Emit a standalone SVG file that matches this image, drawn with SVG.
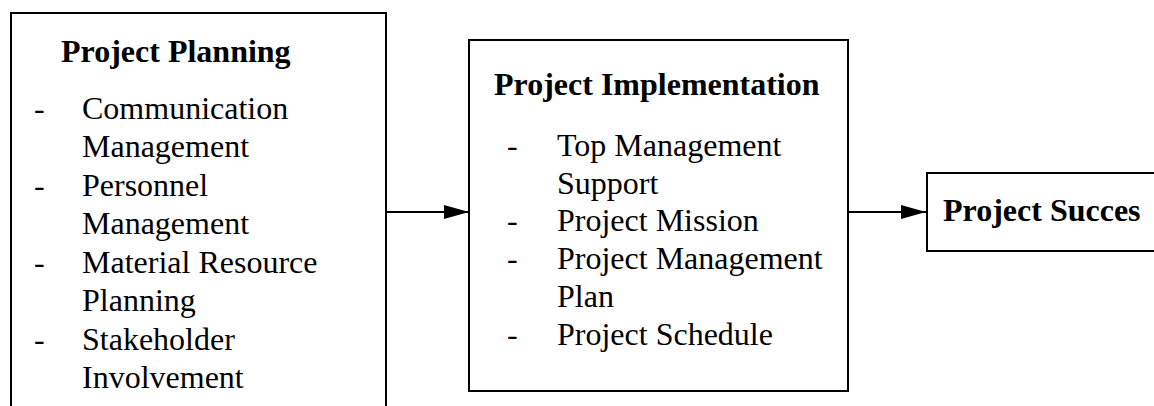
<svg xmlns="http://www.w3.org/2000/svg" width="1154" height="406" viewBox="0 0 1154 406">
  <style>
    .box { fill: #ffffff; stroke: #000000; stroke-width: 2; }
    .title { font-family: "Liberation Serif", "Times New Roman", serif; font-size: 32px; font-weight: bold; fill: #000000; }
    .item { font-family: "Liberation Serif", "Times New Roman", serif; font-size: 32px; fill: #000000; }
    .link { stroke: #000000; stroke-width: 2; fill: none; }
  </style>
  <defs>
    <marker id="arrowhead" markerUnits="userSpaceOnUse" markerWidth="26" markerHeight="16" refX="25" refY="8" orient="auto">
      <path d="M0,1 L25,8 L0,15 Z" fill="#000000"/>
    </marker>
  </defs>
  <rect width="1154" height="406" fill="#ffffff"/>

  <g id="planning">
    <rect class="box" x="11" y="13" width="375" height="420"/>
    <text class="title" x="61" y="62">Project Planning</text>
    <g class="item">
      <text x="34" y="118.5">-</text><text x="82" y="118.5">Communication</text>
      <text x="82" y="157">Management</text>
      <text x="34" y="195.5">-</text><text x="82" y="195.5">Personnel</text>
      <text x="82" y="234">Management</text>
      <text x="34" y="272.5">-</text><text x="82" y="272.5">Material Resource</text>
      <text x="82" y="311">Planning</text>
      <text x="34" y="349.5">-</text><text x="82" y="349.5">Stakeholder</text>
      <text x="82" y="388">Involvement</text>
    </g>
  </g>

  <g id="implementation">
    <rect class="box" x="469" y="40" width="379" height="351"/>
    <text class="title" x="494" y="95">Project Implementation</text>
    <g class="item">
      <text x="507" y="156">-</text><text x="557" y="156">Top Management</text>
      <text x="557" y="193.7">Support</text>
      <text x="507" y="231.4">-</text><text x="557" y="231.4">Project Mission</text>
      <text x="507" y="269.1">-</text><text x="557" y="269.1">Project Management</text>
      <text x="557" y="306.8">Plan</text>
      <text x="507" y="344.5">-</text><text x="557" y="344.5">Project Schedule</text>
    </g>
  </g>

  <g id="success">
    <rect class="box" x="927" y="173" width="260" height="78"/>
    <text class="title" x="943" y="221">Project Succes</text>
  </g>

  <g id="connectors">
    <line class="link" x1="386" y1="212" x2="469" y2="212" marker-end="url(#arrowhead)"/>
    <line class="link" x1="848" y1="212" x2="926" y2="212" marker-end="url(#arrowhead)"/>
  </g>
</svg>
